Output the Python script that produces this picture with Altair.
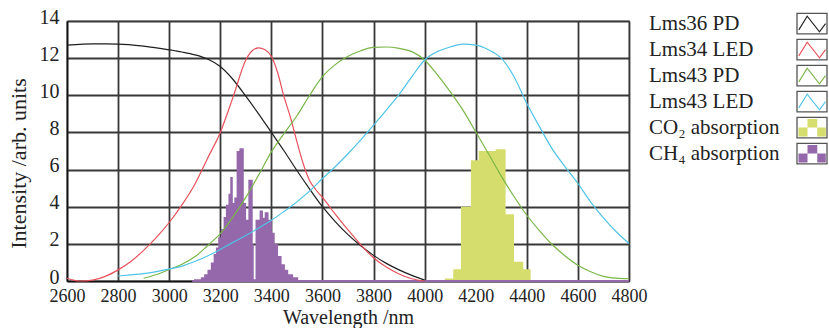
import altair as alt
import pandas as pd

SERIF = "Liberation Serif, Times New Roman, serif"

# ---------------- data ----------------
pd36_wl = [2600, 2650, 2700, 2800, 2900, 3000, 3050, 3100, 3150, 3200, 3250, 3300, 3350,
           3400, 3450, 3500, 3550, 3600, 3650, 3700, 3750, 3800, 3850, 3900, 3950, 4000]
pd36_val = [12.7, 12.74, 12.77, 12.76, 12.65, 12.45, 12.33, 12.18, 11.95, 11.55, 10.85, 9.95, 9.0,
            8.0, 7.0, 5.95, 4.95, 4.0, 3.2, 2.5, 1.9, 1.38, 0.95, 0.6, 0.3, 0.05]

led34_wl = [2600, 2625, 2650, 2700, 2750, 2800, 2850, 2900, 2950, 3000, 3050, 3100, 3150, 3200,
            3250, 3300, 3325, 3350, 3375, 3400, 3425, 3450, 3475, 3500, 3525, 3550, 3575, 3600,
            3650, 3700, 3750, 3800, 3850, 3900, 3950, 4000]
led34_val = [0.15, 0.05, 0.0, 0.05, 0.25, 0.6, 1.05, 1.65, 2.35, 3.15, 4.1, 5.2, 6.6, 8.0,
             9.9, 11.9, 12.4, 12.55, 12.45, 12.1, 11.2, 9.9, 8.8, 7.5, 6.3, 5.4, 4.9, 4.5,
             3.6, 2.75, 1.95, 1.25, 0.75, 0.38, 0.12, 0.0]

pd43_wl = [2900, 2950, 3000, 3050, 3100, 3150, 3200, 3250, 3300, 3350, 3400, 3450, 3500, 3550,
           3600, 3650, 3700, 3750, 3800, 3850, 3900, 3950, 4000, 4050, 4100, 4150, 4200, 4250,
           4300, 4350, 4400, 4450, 4500, 4550, 4600, 4650, 4700, 4750, 4800]
pd43_val = [0.15, 0.35, 0.62, 0.9, 1.3, 1.9, 2.55, 3.45, 4.5, 5.7, 6.95, 7.95, 8.9, 10.0,
            11.0, 11.65, 12.1, 12.4, 12.58, 12.6, 12.53, 12.35, 11.9, 11.1, 10.2, 9.2, 8.03, 6.85,
            5.65, 4.55, 3.54, 2.7, 1.95, 1.35, 0.85, 0.5, 0.25, 0.15, 0.12]

led43_wl = [2800, 2850, 2900, 2950, 3000, 3050, 3100, 3150, 3200, 3250, 3300, 3350, 3400, 3450,
            3500, 3550, 3600, 3650, 3700, 3750, 3800, 3850, 3900, 3950, 4000, 4050, 4100, 4150,
            4200, 4250, 4300, 4350, 4400, 4450, 4500, 4550, 4600, 4650, 4700, 4750, 4800]
led43_val = [0.27, 0.33, 0.4, 0.5, 0.65, 0.8, 1.05, 1.35, 1.7, 2.08, 2.45, 2.85, 3.27, 3.75,
             4.26, 4.85, 5.52, 6.15, 6.85, 7.6, 8.39, 9.2, 10.05, 11.0, 11.9, 12.35, 12.6, 12.75,
             12.7, 12.45, 12.0, 11.0, 9.56, 8.3, 7.1, 6.15, 5.25, 4.25, 3.4, 2.65, 2.02]

co2_edges = [4079, 4112, 4142, 4181, 4212, 4245, 4278, 4317, 4350, 4386, 4415]
co2_height = [0.13, 0.63, 4.0, 6.5, 7.0, 7.0, 7.1, 3.6, 1.03, 0.63]

ch4_edges = [3097, 3124, 3137, 3150, 3163, 3174, 3183, 3192, 3203, 3213, 3222, 3232, 3239,
             3249, 3255, 3264, 3275, 3292, 3301, 3310, 3327, 3331, 3338, 3354, 3367, 3374,
             3389, 3402, 3413, 3426, 3440, 3453, 3466, 3485, 3505, 3531]
ch4_height = [0.1, 0.2, 0.36, 0.6, 1.0, 1.45, 1.8, 2.35, 2.8, 3.45, 4.1, 4.7, 5.6,
              4.2, 4.5, 7.0, 7.15, 4.2, 3.3, 5.45, 2.0, 0.1, 3.3, 3.8, 3.4,
              3.7, 3.3, 2.6, 2.0, 1.35, 0.9, 0.6, 0.36, 0.2, 0.05]
ch4_baseline_wl = [3090, 4800]

series_names = ["Lms36 PD", "Lms34 LED", "Lms43 PD", "Lms43 LED"]
series_colors = ["#1e1e1e", "#e8505b", "#7ab648", "#4fc3e8"]
co2_color = "#d5dd6c"
ch4_color = "#9468aa"
legend_labels = series_names + ["CO\u2082 absorption", "CH\u2084 absorption"]
legend_colors = series_colors + [co2_color, ch4_color]

# ---------------- frames ----------------
rows = []
for name, wls, vals in zip(series_names,
                           [pd36_wl, led34_wl, pd43_wl, led43_wl],
                           [pd36_val, led34_val, pd43_val, led43_val]):
    for w, v in zip(wls, vals):
        rows.append({"series": name, "wl": w, "val": v})
lines_df = pd.DataFrame(rows)

# histograms as step outlines (value holds until next edge; closes to 0 at last edge)
co2_df = pd.DataFrame({"wl": co2_edges, "h": co2_height + [0]})
ch4_df = pd.DataFrame({"wl": ch4_edges, "h": ch4_height + [0]})
base_df = pd.DataFrame({"wl": ch4_baseline_wl, "val": [0, 0]})
leg_df = pd.DataFrame({"label": legend_labels, "row": list(range(6)), "color": legend_colors})

# ---------------- scales / axes ----------------
x_scale = alt.Scale(domain=[2600, 4800], nice=False, zero=False)
y_scale = alt.Scale(domain=[0, 14], nice=False)

x_axis = alt.Axis(values=list(range(2600, 4801, 200)), format="d", title="Wavelength /nm",
                  grid=True, gridColor="#383838", gridWidth=1.8, gridOpacity=1,
                  ticks=False, domainColor="#111", domainWidth=1.5,
                  labelFont=SERIF, labelFontSize=18, labelColor="#222", labelPadding=6,
                  labelOverlap=False, labelFlush=False,
                  titleFont=SERIF, titleFontSize=20, titleFontWeight="normal", titleColor="#222",
                  titleY=42, titleBaseline="alphabetic")
y_axis = alt.Axis(values=list(range(0, 15, 2)), format="d", title="Intensity /arb. units",
                  grid=True, gridColor="#383838", gridWidth=1.8, gridOpacity=1,
                  ticks=False, domainColor="#111", domainWidth=1.5,
                  labelFont=SERIF, labelFontSize=20, labelColor="#222", labelPadding=8,
                  labelOffset=-4,
                  titleFont=SERIF, titleFontSize=22, titleFontWeight="normal", titleColor="#222",
                  titleAngle=270, titleX=-49, titleY=142, titleAlign="center",
                  titleBaseline="middle")

co2 = alt.Chart(co2_df).mark_area(color=co2_color, opacity=1, interpolate="step-after").encode(
    x=alt.X("wl:Q", scale=x_scale, axis=x_axis),
    y=alt.Y("h:Q", scale=y_scale, axis=y_axis),
)
ch4 = alt.Chart(ch4_df).mark_area(color=ch4_color, opacity=1, interpolate="step-after").encode(
    x=alt.X("wl:Q", scale=x_scale, axis=x_axis),
    y=alt.Y("h:Q", scale=y_scale, axis=y_axis),
)
baseline = alt.Chart(base_df).mark_line(color=ch4_color, strokeWidth=2).encode(
    x=alt.X("wl:Q", scale=x_scale, axis=x_axis),
    y=alt.Y("val:Q", scale=y_scale, axis=y_axis),
)
lines = alt.Chart(lines_df).mark_line(strokeWidth=1.2, interpolate="monotone").encode(
    x=alt.X("wl:Q", scale=x_scale, axis=x_axis),
    y=alt.Y("val:Q", scale=y_scale, axis=y_axis),
    color=alt.Color("series:N", scale=alt.Scale(domain=series_names, range=series_colors),
                    legend=None),
    detail="series:N",
)

data_layer = alt.layer(co2, ch4, baseline, lines)

# ---------------- custom legend (symbols right of labels) ----------------
BOX = "M-1,-0.68 L1,-0.68 L1,0.68 L-1,0.68 Z"
ZIG = "M-0.88,0.42 L-0.32,-0.5 L0.5,0.55 L0.9,0.0"
PAT = ("M-0.9,0.0 L-0.3,0.0 L-0.3,0.6 L-0.9,0.6 Z "
       "M-0.3,-0.58 L0.35,-0.58 L0.35,0.0 L-0.3,0.0 Z "
       "M0.35,0.0 L0.92,0.0 L0.92,0.6 L0.35,0.6 Z")

leg_y = alt.Y("row:Q", scale=alt.Scale(domain=[-0.1, 9.9], reverse=True), axis=None)

leg_text = alt.Chart(leg_df).mark_text(align="left", baseline="middle", font=SERIF,
                                       fontSize=21, color="#222").encode(
    x=alt.value(582), y=leg_y, text="label:N")
leg_box = alt.Chart(leg_df).mark_point(shape=BOX, size=900, filled=False, color="#555",
                                       strokeWidth=1.3, opacity=1).encode(
    x=alt.value(745), y=leg_y)
leg_zig = alt.Chart(leg_df).transform_filter("datum.row < 4").mark_point(
    shape=ZIG, size=900, filled=False, strokeWidth=1.1, opacity=1).encode(
    x=alt.value(745), y=leg_y, color=alt.Color("color:N", scale=None))
leg_pat = alt.Chart(leg_df).transform_filter("datum.row >= 4").mark_point(
    shape=PAT, size=900, filled=True, opacity=1).encode(
    x=alt.value(745), y=leg_y, color=alt.Color("color:N", scale=None))

legend_layer = alt.layer(leg_text, leg_box, leg_zig, leg_pat)

chart = alt.layer(data_layer, legend_layer).resolve_scale(y="independent").properties(
    width=562, height=260,
    autosize=alt.AutoSizeParams(type="none"),
    padding={"left": 67, "top": 21, "right": 200, "bottom": 47},
    background="white",
).configure_view(stroke="#555", strokeWidth=1.2)

chart.save("out.html", embed_options={"renderer": "svg", "actions": False})
